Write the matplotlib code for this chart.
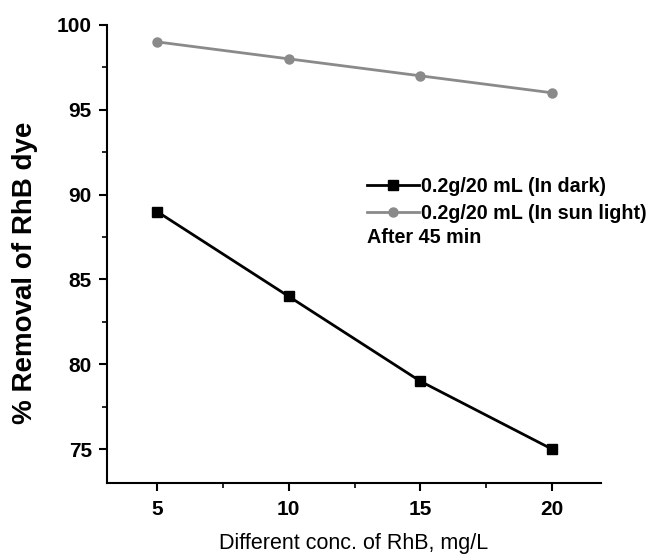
import matplotlib.pyplot as plt
from matplotlib.ticker import MultipleLocator

plt.rcParams['font.family'] = ['Liberation Sans', 'DejaVu Sans']

# data
conc = [5, 10, 15, 20]
dark = [89, 84, 79, 75]
sun = [99, 98, 97, 96]

fig = plt.figure(figsize=(6.53, 5.54), dpi=100)
ax = fig.add_axes([0.164, 0.128, 0.756, 0.827])

ax.plot(conc, dark, color='black', lw=2, marker='s', ms=6.5,
        label='0.2g/20 mL (In dark)')
ax.plot(conc, sun, color='#8a8a8a', lw=2, marker='o', ms=6.5,
        label='0.2g/20 mL (In sun light)')

ax.set_xlim(3.1, 21.85)
ax.set_ylim(73, 100)
ax.xaxis.set_major_locator(MultipleLocator(5))
ax.xaxis.set_minor_locator(MultipleLocator(2.5))
ax.yaxis.set_major_locator(MultipleLocator(5))
ax.yaxis.set_minor_locator(MultipleLocator(2.5))
ax.set_xticks([5, 10, 15, 20])

for s in ['top', 'right']:
    ax.spines[s].set_visible(False)
for s in ['left', 'bottom']:
    ax.spines[s].set_linewidth(1.5)

ax.tick_params(which='major', direction='out', length=6, width=1.5,
               labelsize=15, pad=5)
ax.tick_params(axis='x', which='major', pad=6)
ax.tick_params(which='minor', direction='out', length=3.5, width=1.2)
for lbl in ax.get_xticklabels() + ax.get_yticklabels():
    lbl.set_fontweight('bold')

ax.set_xlabel('Different conc. of RhB, mg/L', fontsize=15.5, labelpad=10)
ax.set_ylabel('% Removal of RhB dye', fontsize=20, fontweight='bold')
ax.yaxis.set_label_coords(-0.14, 0.46)

leg = ax.legend(loc='upper left', bbox_to_anchor=(0.527, 0.668),
                frameon=False, handlelength=2.6, handletextpad=0.12,
                labelspacing=0.42, borderpad=0, borderaxespad=0,
                prop={'size': 14.2, 'weight': 'bold'})
ax.text(0.527, 0.535, 'After 45 min', transform=ax.transAxes,
        fontsize=14.2, fontweight='bold', va='center')

fig.savefig('out.png', dpi=100)
